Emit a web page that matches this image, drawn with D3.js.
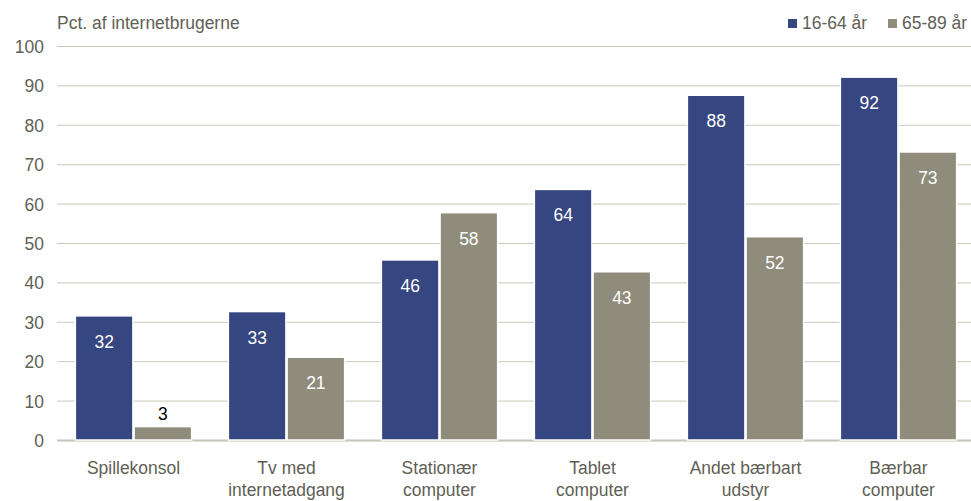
<!DOCTYPE html>
<html><head><meta charset="utf-8">
<script src="https://cdn.jsdelivr.net/npm/d3@7"></script>
<style>
body{margin:0;background:#fff;}
text{font-family:"Liberation Sans",Arial,sans-serif;}
</style></head>
<body><svg id="c" width="971" height="501"></svg>
<script>
const categories = [["Spillekonsol"],["Tv med","internetadgang"],["Stationær","computer"],["Tablet","computer"],["Andet bærbart","udstyr"],["Bærbar","computer"]];
const seriesNames = ["16-64 år","65-89 år"];
const young = [31.5, 32.6, 45.7, 63.6, 87.5, 92.1];
const old = [3.4, 21.0, 57.7, 42.7, 51.6, 73.1];
const yTicks = [0,10,20,30,40,50,60,70,80,90,100];
const yTitle = "Pct. af internetbrugerne";

(function(){
const colors = ["#364680","#8f8c7c"];
const textCol = "#606055";
const FS = 19, SX = 0.92;
const svg = d3.select("#c");
const W = 971;
const mLeft = 57, mRight = 975, mTop = 46, mBottom = 440;
const tf = (x,y)=>`translate(${x},${y}) scale(${SX},1)`;

const y = d3.scaleLinear().domain([0,100]).range([mBottom, mTop]);
const x0 = d3.scaleBand().domain(d3.range(categories.length)).range([mLeft, mRight]).paddingInner(0.24).paddingOuter(0.12);
const x1 = d3.scaleBand().domain([0,1]).range([0, x0.bandwidth()]).paddingInner(0.02);

svg.append("g").selectAll("line").data(yTicks).join("line")
  .attr("x1", mLeft).attr("x2", W)
  .attr("y1", d=>y(d)+0.5).attr("y2", d=>y(d)+0.5)
  .attr("stroke", d=> d===0 ? "#c4c4b8" : "#c8c8bc")
  .attr("stroke-width", d=> d===0 ? 2 : 1);

svg.append("g").selectAll("text").data(yTicks).join("text")
  .attr("transform", d=>tf(44, y(d)+7))
  .attr("text-anchor","end").attr("font-size",FS).attr("fill",textCol)
  .text(d=>d);

svg.append("text").attr("transform", tf(57,29)).attr("font-size",FS).attr("fill",textCol).text(yTitle);

const data = categories.map((c,i)=>({i, vals:[young[i], old[i]]}));
const g = svg.append("g").selectAll("g").data(data).join("g")
  .attr("transform", d=>`translate(${x0(d.i)},0)`);
g.selectAll("rect").data(d=>d.vals.map((v,s)=>({v,s}))).join("rect")
  .attr("x", d=>x1(d.s)).attr("width", x1.bandwidth())
  .attr("y", d=>y(d.v)).attr("height", d=>y(0)-y(d.v))
  .attr("fill", d=>colors[d.s])
  .attr("stroke","#ffffff").attr("stroke-width",1.5);
g.selectAll("text.v").data(d=>d.vals.map((v,s)=>({v,s}))).join("text")
  .attr("class","v")
  .attr("transform", d=>tf(x1(d.s)+x1.bandwidth()/2, (y(0)-y(d.v)) > 35 ? y(d.v)+32 : y(d.v)-7))
  .attr("text-anchor","middle").attr("font-size",FS)
  .attr("fill", d=> (y(0)-y(d.v)) > 35 ? "#ffffff" : "#000000")
  .text(d=>Math.round(d.v));

svg.append("g").selectAll("text").data(categories.map((c,i)=>({c,i}))).join("text")
  .attr("transform", d=>tf(x0(d.i)+x0.bandwidth()/2, 474))
  .attr("text-anchor","middle").attr("font-size",FS).attr("fill",textCol)
  .selectAll("tspan").data(d=>d.c).join("tspan")
  .attr("x", 0)
  .attr("dy",(d,j)=>j===0?0:22).text(d=>d);

const lx = [788, 888];
const lg = svg.append("g").selectAll("g").data(seriesNames).join("g")
  .attr("transform",(d,i)=>`translate(${lx[i]},19)`);
lg.append("rect").attr("width",9).attr("height",9).attr("fill",(d,i)=>colors[i]);
lg.append("text").attr("transform", tf(14,9.5)).attr("font-size",FS).attr("fill",textCol).text(d=>d);
})();
</script></body></html>
